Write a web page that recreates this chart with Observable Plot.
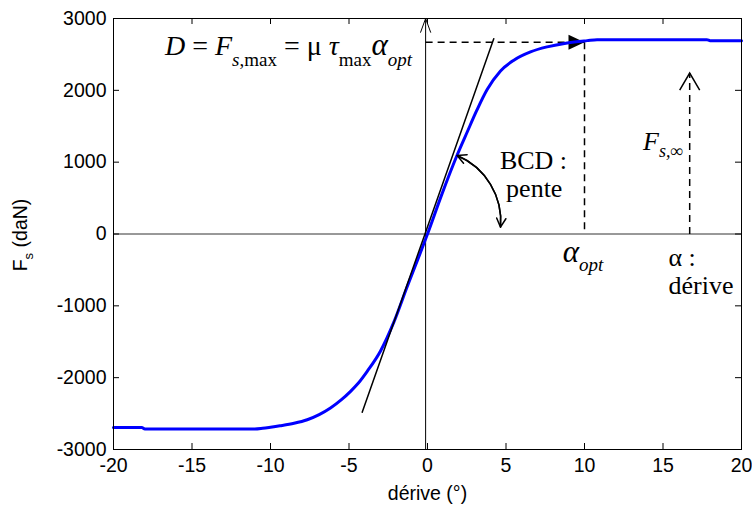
<!DOCTYPE html>
<html><head><meta charset="utf-8">
<script src="https://cdn.jsdelivr.net/npm/d3@7"></script>
<script src="https://cdn.jsdelivr.net/npm/@observablehq/plot@0.6"></script>
<style>html,body{margin:0;padding:0;background:#fff} svg{display:block}</style>
</head><body><div id="chart"></div>
<script>
// ---- data ----
const deriveX = [-20, -18.2, -18, -11, -10.5, -10, -9.4, -8.5, -7.66, -6.9, -6.18, -5.5, -4.9, -4.4, -3.84, -3.0, -2.15, -1.29, -0.6, 0, 0.9, 1.89, 2.53, 3.16, 3.8, 4.65, 5.5, 6.56, 7.62, 8.9, 10.17, 10.8, 17.8, 18, 20];
const forceFs = [-2694, -2694, -2715, -2715, -2705, -2690, -2670, -2635, -2586, -2515, -2423, -2310, -2190, -2075, -1912, -1632, -1230, -730, -345, 0, 545, 1100, 1420, 1730, 2010, 2270, 2420, 2535, 2605, 2660, 2692, 2705, 2705, 2692, 2692];
const tangentX = [-4.16, 4.22];
const tangentY = [-2481, 2718];
const xTicks = [-20, -15, -10, -5, 0, 5, 10, 15, 20];
const yTicks = [-3000, -2000, -1000, 0, 1000, 2000, 3000];
const axisLineX = -0.12;
const alphaOpt = 10;
const fsMaxLevel = 2670;
const fsInfX = 16.7;
const fsInfTop = 2240;
const arcStart = {x: 1.89, y: 1093};
const arcEnd = {x: 4.65, y: 95};

const W = 752, H = 506, mL = 113, mR = 11, mT = 18, mB = 57;
const innerW = W - mL - mR, innerH = H - mT - mB;

const curve = deriveX.map((x, i) => ({x, y: forceFs[i]}));
const tangent = tangentX.map((x, i) => ({x, y: tangentY[i]}));

const chevron = {draw(ctx) { ctx.moveTo(-10, 17); ctx.lineTo(0, 0); ctx.lineTo(10, 17); }};
const triRight = {draw(ctx) { ctx.moveTo(0, 0); ctx.lineTo(-16, -7.5); ctx.lineTo(-16, 7.5); ctx.closePath(); }};

const serif = "'Liberation Serif', 'Times New Roman', serif";
const sans = "'Liberation Sans', Arial, sans-serif";
const tickFont = 19.5;

const chart = Plot.plot({
  width: W, height: H,
  marginLeft: mL, marginRight: mR, marginTop: mT, marginBottom: mB,
  x: {domain: [-20, 20]},
  y: {domain: [-3000, 3000]},
  style: {fontFamily: sans, fontSize: tickFont + "px", color: "black", background: "white"},
  marks: [
    Plot.ruleY([0], {stroke: "#333", strokeWidth: 1}),
    Plot.arrow([{x1: axisLineX, y1: -3000, x2: axisLineX, y2: 3000}], {x1: "x1", y1: "y1", x2: "x2", y2: "y2", stroke: "black", strokeWidth: 1, headLength: 22, headAngle: 40}),
    // dashed guides
    Plot.link([{x1: axisLineX, x2: alphaOpt, y1: fsMaxLevel, y2: fsMaxLevel}], {x1: "x1", x2: "x2", y1: "y1", y2: "y2", stroke: "black", strokeWidth: 1.5, strokeDasharray: "7,5"}),
    Plot.dot([{x: alphaOpt, y: fsMaxLevel}], {x: "x", y: "y", symbol: triRight, fill: "black", stroke: "none"}),
    Plot.link([{x: alphaOpt, y1: fsMaxLevel, y2: 0}], {x1: "x", x2: "x", y1: "y1", y2: "y2", stroke: "black", strokeWidth: 1.5, strokeDasharray: "7,5"}),
    Plot.link([{x: fsInfX, y1: 0, y2: fsInfTop}], {x1: "x", x2: "x", y1: "y1", y2: "y2", stroke: "black", strokeWidth: 1.5, strokeDasharray: "7,5"}),
    Plot.dot([{x: fsInfX, y: fsInfTop}], {x: "x", y: "y", symbol: chevron, fill: "none", stroke: "black", strokeWidth: 1.5}),
    // data
    Plot.line(curve, {x: "x", y: "y", stroke: "#0000ff", strokeWidth: 3, curve: "monotone-x"}),
    Plot.line(tangent, {x: "x", y: "y", stroke: "black", strokeWidth: 1.5}),
    // BCD arc (double headed)
    Plot.arrow([{x1: arcStart.x, y1: arcStart.y, x2: arcEnd.x, y2: arcEnd.y}], {x1: "x1", y1: "y1", x2: "x2", y2: "y2", bend: 36, stroke: "black", strokeWidth: 1.5, headLength: 10, headAngle: 55}),
    Plot.arrow([{x1: arcEnd.x, y1: arcEnd.y, x2: arcStart.x, y2: arcStart.y}], {x1: "x1", y1: "y1", x2: "x2", y2: "y2", bend: -36, stroke: "black", strokeWidth: 1.5, headLength: 10, headAngle: 55}),
    // plain annotation texts
    Plot.text([{x: 6.75, y: 981, t: "BCD :"}], {x: "x", y: "y", text: "t", fontFamily: serif, fontSize: 26, textAnchor: "middle", lineAnchor: "bottom", dy: 5}),
    Plot.text([{x: 6.8, y: 582, t: "pente"}], {x: "x", y: "y", text: "t", fontFamily: serif, fontSize: 26, textAnchor: "middle", lineAnchor: "bottom", dy: 5}),
    Plot.text([{x: 15.35, y: -369, t: "α :"}], {x: "x", y: "y", text: "t", fontFamily: serif, fontSize: 26, textAnchor: "start", lineAnchor: "bottom", dy: 5}),
    Plot.text([{x: 15.35, y: -759, t: "dérive"}], {x: "x", y: "y", text: "t", fontFamily: serif, fontSize: 26, textAnchor: "start", lineAnchor: "bottom", dy: 5}),
    // frame & inward ticks
    Plot.frame({stroke: "black", strokeWidth: 1}),
    Plot.tickX(xTicks, {x: d => d, insetTop: innerH - 6, stroke: "black"}),
    Plot.tickX(xTicks, {x: d => d, insetBottom: innerH - 6, stroke: "black"}),
    Plot.tickY(yTicks, {y: d => d, insetRight: innerW - 6, stroke: "black"}),
    Plot.tickY(yTicks, {y: d => d, insetLeft: innerW - 6, stroke: "black"}),
    Plot.axisX({ticks: xTicks, tickSize: 0, tickPadding: 9, tickFormat: d => String(d), label: null, fontSize: tickFont}),
    Plot.axisY({ticks: yTicks, tickSize: 0, tickPadding: 7, tickFormat: d => String(d), label: null, fontSize: tickFont}),
    Plot.text(["dérive (°)"], {frameAnchor: "bottom", dy: 44, fontSize: tickFont, lineAnchor: "middle"})
  ]
});

document.getElementById("chart").appendChild(chart);

// ---- rich text labels (subscripts), positioned with the plot's scales ----
const sx = chart.scale("x"), sy = chart.scale("y");
const svg = d3.select(chart);

function rich(x, y, size, parts) {
  const t = svg.append("text")
    .attr("x", sx.apply(x)).attr("y", sy.apply(y))
    .attr("text-anchor", "start")
    .attr("font-family", serif).attr("font-size", size).attr("fill", "black");
  for (const p of parts) {
    const s = t.append("tspan").text(p.t);
    if (p.it) s.attr("font-style", "italic");
    if (p.size) s.attr("font-size", p.size);
    if (p.dy) s.attr("dy", p.dy);
  }
  return t;
}

// D = F_{s,max} = μ τ_max α_opt
rich(-16.69, 2485, 28, [
  {t: "D", it: true}, {t: " = "}, {t: "F", it: true},
  {t: "s", it: true, size: 19, dy: 11}, {t: ",max", size: 19},
  {t: " = μ", dy: -11}, {t: " τ", it: true},
  {t: "max", size: 19, dy: 11},
  {t: "α", it: true, size: 31, dy: -11},
  {t: "opt", it: true, size: 19, dy: 11}
]);

// α_opt
rich(8.64, -397, 31, [{t: "α", it: true}, {t: "opt", it: true, size: 19, dy: 9}]);

// F_{s,∞}
rich(13.76, 1162, 26, [{t: "F", it: true}, {t: "s,", it: true, size: 18, dy: 7}, {t: "∞", it: true, size: 18}]);

// y label F_s (daN)
const yl = svg.append("text")
  .attr("transform", `translate(27,235) rotate(-90)`)
  .attr("text-anchor", "middle")
  .attr("font-family", sans).attr("font-size", tickFont).attr("fill", "black");
yl.append("tspan").text("F");
yl.append("tspan").text("s").attr("font-size", 13).attr("dy", 6);
yl.append("tspan").text(" (daN)").attr("dy", -6);
</script>
</body></html>
